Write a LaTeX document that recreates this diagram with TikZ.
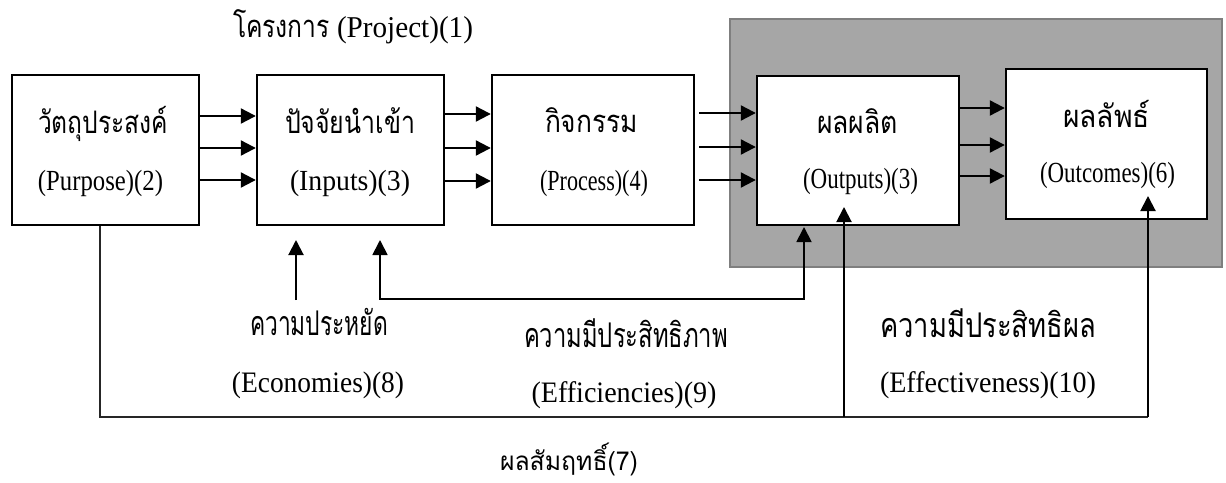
\documentclass[tikz,border=0pt]{standalone}
\usepackage{fontspec}
\setmainfont{Liberation Serif}
\newfontfamily\thai[Script=Thai]{Loma}
\usetikzlibrary{arrows.meta}
% Thai text set at a given size (default 31pt), then stretched to a given width
\newcommand{\tw}[3][31]{\resizebox{#2pt}{\height}{\thai\fontsize{#1}{#1}\selectfont #3}}
% Latin text set to a given width and made a little taller
\newcommand{\fw}[3][1.08]{\resizebox{#2pt}{#1\height}{#3}}
\definecolor{panelfill}{HTML}{A6A6A6}
\definecolor{panelline}{HTML}{7F7F7F}
\begin{document}
\begin{tikzpicture}[x=1pt,y=-1pt,
  font=\fontsize{27}{30}\selectfont,
  box/.style={draw=black, line width=2.4pt, fill=white, inner sep=0pt},
  lbl/.style={anchor=base, inner sep=0pt},
  arr/.style={line width=2.2pt, -{Triangle[length=15pt,width=15pt]}},
  uparr/.style={line width=2pt, -{Triangle[length=15pt,width=15pt]}},
  bus/.style={line width=1.3pt, draw=black!85}]
\useasboundingbox (0,0) rectangle (1226,482);

% shaded panel behind the results side
\node[draw=panelline, fill=panelfill, line width=2pt, minimum width=492pt, minimum height=248pt, inner sep=0pt] (panel) at (976,143) {};

% main boxes
\node[box, minimum width=187pt, minimum height=150pt] (b1) at (105.5,150) {};
\node[box, minimum width=187pt, minimum height=150pt] (b2) at (350.5,150) {};
\node[box, minimum width=202pt, minimum height=150pt] (b3) at (593,150) {};
\node[box, minimum width=202pt, minimum height=149pt] (b4) at (858,150.5) {};
\node[box, minimum width=201pt, minimum height=150pt] (b5) at (1106.5,144) {};

% title
\node[lbl] (titleTh) at (281.5,37) {\tw{97}{โครงการ}};
\node[lbl] (titleEn) at (405,37) {\fw[1.12]{136}{(Project)(1)}};

% box labels
\node[lbl] (t1) at (103,133) {\tw{130}{วัตถุประสงค์}};
\node[lbl] (e1) at (100.5,190) {\fw{125}{(Purpose)(2)}};
\node[lbl] (t2) at (350,133) {\tw{130}{ปัจจัยนำเข้า}};
\node[lbl] (e2) at (350,190) {\fw{120}{(Inputs)(3)}};
\node[lbl] (t3) at (591.5,132) {\tw{93}{กิจกรรม}};
\node[lbl] (e3) at (594,190) {\fw{108}{(Process)(4)}};
\node[lbl] (t4) at (857.5,133) {\tw{81}{ผลผลิต}};
\node[lbl] (e4) at (860.5,188) {\fw{115}{(Outputs)(3)}};
\node[lbl] (t5) at (1106.5,127) {\tw{87}{ผลลัพธ์}};
\node[lbl] (e5) at (1107.5,182) {\fw{135}{(Outcomes)(6)}};

% measure labels
\node[lbl] (t8) at (319,335) {\tw[34]{138}{ความประหยัด}};
\node[lbl] (e8) at (318,392) {\fw[1.1]{172}{(Economies)(8)}};
\node[lbl] (t9) at (626,347) {\tw[34]{204}{ความมีประสิทธิภาพ}};
\node[lbl] (e9) at (624,402) {\fw[1.1]{185}{(Efficiencies)(9)}};
\node[lbl] (t10) at (988,337) {\tw[34]{216}{ความมีประสิทธิผล}};
\node[lbl] (e10) at (988,392) {\fw[1.1]{216}{(Effectiveness)(10)}};
\node[lbl] (t7) at (569,470) {\resizebox{138pt}{\height}{\thai\fontsize{26}{30}\selectfont ผลสัมฤทธิ์(7)}};

% flows between the boxes
\foreach \y in {116,148,180} \draw[arr] (b1.east |- 0,\y) -- (b2.west |- 0,\y);
\foreach \y in {114,148,181} \draw[arr] (b2.east |- 0,\y) -- (b3.west |- 0,\y);
\foreach \y in {113,147,180} \draw[arr] ([xshift=4pt]b3.east |- 0,\y) -- (b4.west |- 0,\y);
\foreach \y in {108,145,176} \draw[arr] (b4.east |- 0,\y) -- (b5.west |- 0,\y);

% economies
\coordinate (ecoFoot) at (296,300);
\coordinate (ecoTip) at (296,240);
\draw[uparr] (ecoFoot) -- (ecoTip);

% efficiencies: inputs <-> outputs
\coordinate (effL) at (380,240);
\coordinate (effR) at (804,227);
\draw[line width=1.8pt, {Triangle[length=15pt,width=15pt]}-{Triangle[length=15pt,width=15pt]}]
  (effL) -- (effL |- 0,299) -- (effR |- 0,299) -- (effR);

% effectiveness and overall results line
\coordinate (busL) at (100,417);
\coordinate (busM) at (844,417);
\coordinate (busR) at (1148,417);
\draw[bus] (b1.south -| busL) -- (busL) -- (busR);
\draw[uparr] (busM) -- (busM |- 0,207);
\draw[uparr] (busR) -- (busR |- 0,196);
\end{tikzpicture}
\end{document}
